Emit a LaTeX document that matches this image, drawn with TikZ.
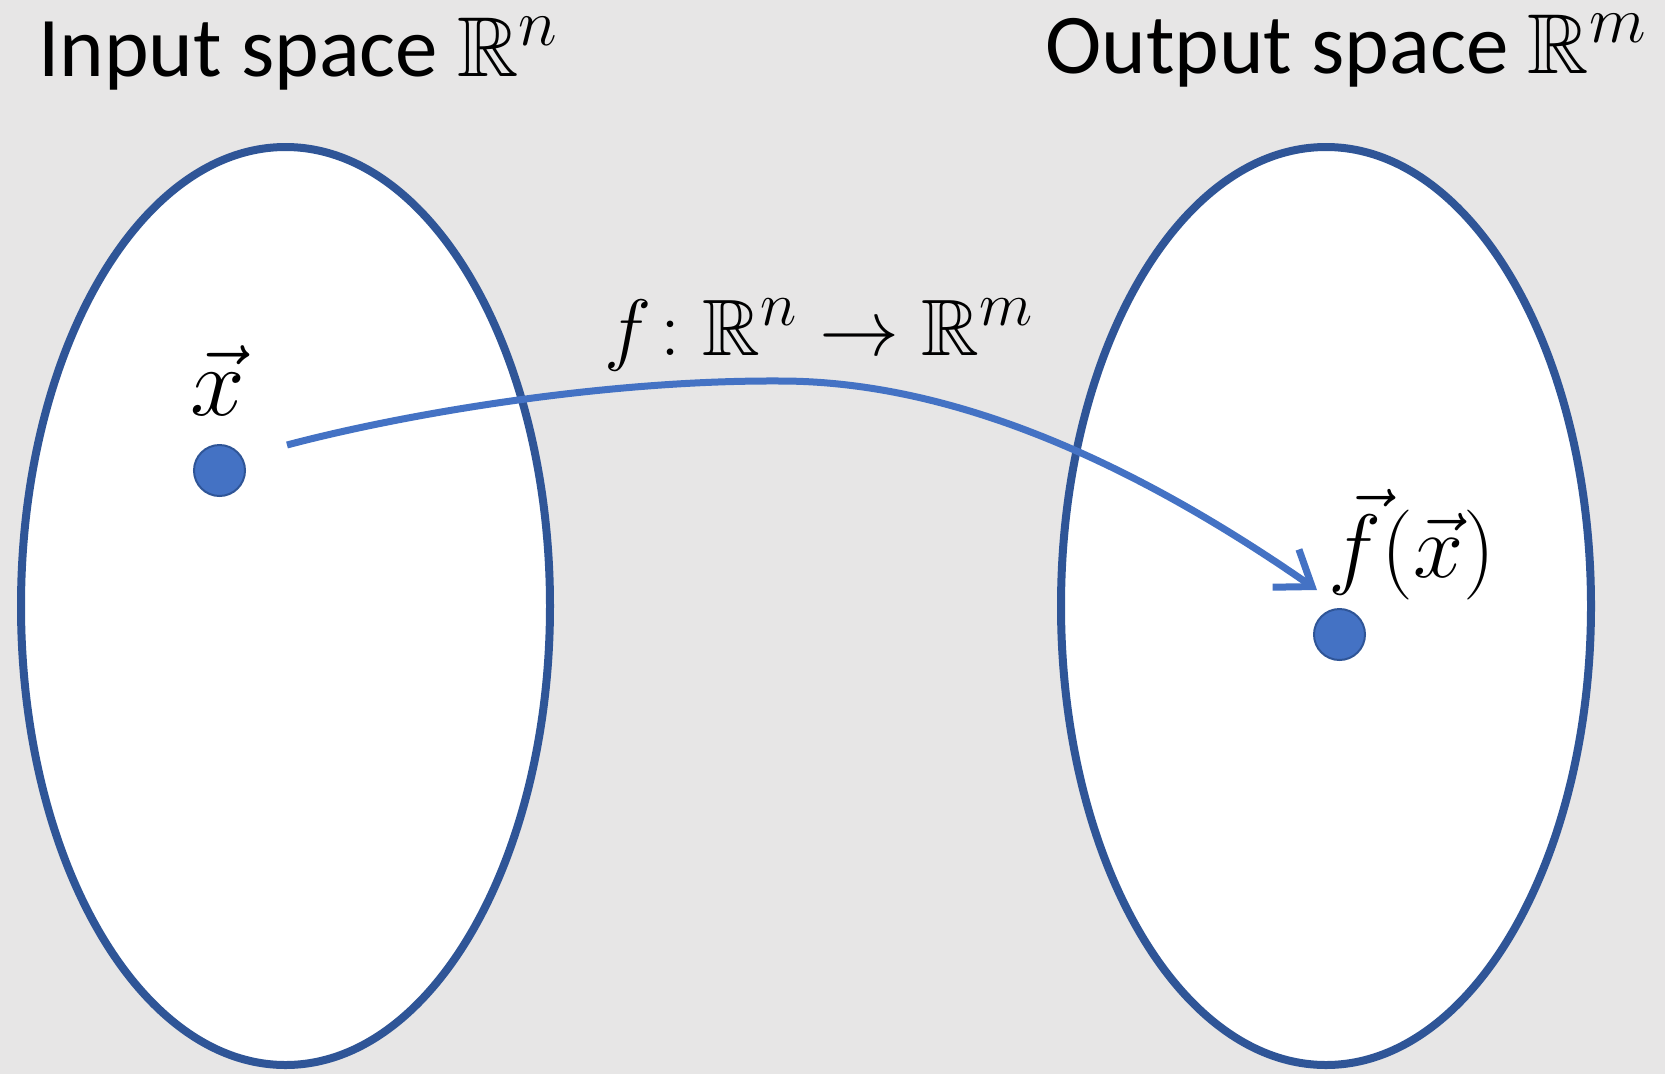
\RequirePackage{fix-cm}
\documentclass[tikz,border=0pt]{standalone}
\usepackage{amsmath,amssymb}
\usepackage[no-math]{fontspec}
\setmainfont{Carlito}
\DeclareMathSizes{85}{85}{66}{48}
\DeclareMathSizes{80}{80}{62}{45}
\DeclareMathSizes{98}{98}{74}{54}
\DeclareMathSizes{90}{90}{70}{50}
\usetikzlibrary{arrows.meta}
\definecolor{bg}{HTML}{E7E6E6}
\definecolor{darkblue}{HTML}{2F5597}
\definecolor{midblue}{HTML}{4472C4}
\tikzset{
  space/.style={draw=darkblue, line width=8pt, fill=white},
  dot/.style={circle, fill=midblue, draw=darkblue, line width=2pt, minimum size=51pt, inner sep=0pt},
  title/.style={font=\fontsize{85}{100}\selectfont, inner sep=0pt},
  mathlbl/.style={font=\fontsize{80}{96}\selectfont, inner sep=0pt},
  maparrow/.style={draw=midblue, line width=7pt, -{Straight Barb[length=32pt,width=46pt,line width=7pt]}}
}
\begin{document}
\begin{tikzpicture}[x=1pt,y=-1pt]
\useasboundingbox[fill=bg] (0,0) rectangle (1665,1074);
% spaces
\draw[space] (285.5,606) ellipse [x radius=264.5, y radius=459];
\draw[space] (1326,606) ellipse [x radius=265, y radius=459];
% titles
\node[title, anchor=base west] (tin) at (38,76) {Input space $\mathbb{R}^n$};
\node[title, anchor=base west] (tout) at (1045,73) {Output space $\mathbb{R}^m$};
% points
\node[dot] (x) at (219.5,470.5) {};
\node[dot] (fx) at (1339.5,634.5) {};
\node[anchor=base, inner sep=0pt, font=\fontsize{98}{110}\selectfont] (xl) at (218,415) {$\vec{x}$};
\node[anchor=base west, inner sep=0pt, font=\fontsize{90}{104}\selectfont] (fxl) at (1328,577) {$\vec{f}(\vec{x})$};
% map label
\node[mathlbl, anchor=base west] (map) at (604,355) {$f\!: \mathbb{R}^n \to \mathbb{R}^m$};
% arrow
\coordinate (s) at (287,445);
\coordinate (pk) at (780,381);
\coordinate (e) at (1317,590);
\draw[maparrow] (s) .. controls (400,415) and (600,380) .. (pk)
   .. controls (950,381) and (1130,460) .. (e);
\end{tikzpicture}
\end{document}
